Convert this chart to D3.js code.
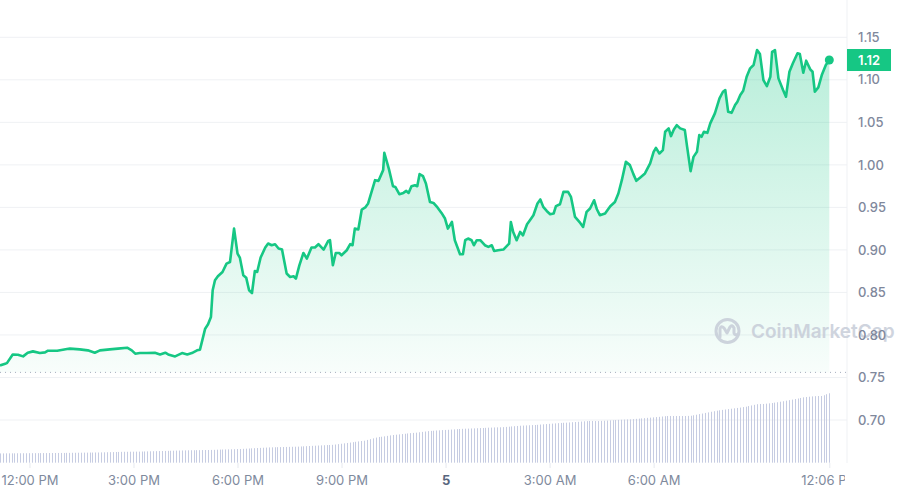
<!DOCTYPE html>
<html>
<head>
<meta charset="utf-8">
<script src="https://cdn.jsdelivr.net/npm/d3@7"></script>
<style>
  html, body { margin: 0; padding: 0; background: #ffffff; }
  svg { display: block; font-family: Inter, "Noto Sans", sans-serif; }
</style>
</head>
<body>
<svg id="chart" width="898" height="495"></svg>
<script>
// ---------- DATA ----------
// minutes after 11:09 AM (Nov 4)
const priceTimes = [0,9,12,22,31,40,48,57,69,78,83,99,116,121,138,152,164,173,190,204,220,228,234,242,254,268,277,286,291,303,315,324,332,341,346,350,355,360,365,368,372,377,385,392,398,405,411,415,421,426,431,436,441,445,451,459,464,470,476,482,488,496,502,508,512,518,525,531,539,545,551,560,568,571,576,581,587,591,600,606,610,614,620,626,632,637,649,655,663,665,673,680,684,691,698,703,707,712,718,722,726,732,737,744,750,757,764,770,775,782,787,796,801,805,810,816,820,825,831,839,845,851,855,862,871,881,884,888,894,900,905,912,917,923,930,935,940,946,952,958,962,969,975,983,988,995,1004,1009,1015,1021,1028,1033,1038,1047,1056,1064,1070,1076,1083,1090,1096,1101,1108,1116,1125,1131,1135,1141,1147,1151,1157,1161,1166,1171,1177,1185,1189,1195,1200,1206,1210,1214,1218,1224,1229,1237,1245,1251,1255,1260,1266,1272,1276,1281,1286,1292,1298,1304,1310,1315,1321,1327,1333,1336,1341,1347,1355,1360,1366,1372,1380,1384,1390,1395,1402,1406,1410,1416,1422,1429,1435];
const priceValues = [0.7642,0.7662,0.7669,0.7771,0.7768,0.7748,0.7791,0.7807,0.7787,0.7795,0.7815,0.7815,0.7834,0.7839,0.7830,0.7819,0.7791,0.7819,0.7830,0.7839,0.7850,0.7819,0.7780,0.7787,0.7787,0.7791,0.7771,0.7791,0.7771,0.7748,0.7787,0.7771,0.7787,0.7819,0.7827,0.7936,0.8074,0.8125,0.8211,0.8525,0.8643,0.8690,0.8740,0.8839,0.8858,0.9251,0.8957,0.8910,0.8702,0.8674,0.8525,0.8493,0.8752,0.8740,0.8910,0.9028,0.9075,0.9055,0.9067,0.9016,0.9004,0.8722,0.8682,0.8690,0.8663,0.8819,0.8964,0.8898,0.9028,0.9028,0.9067,0.9004,0.9105,0.9114,0.8819,0.8964,0.8964,0.8937,0.8996,0.9067,0.9055,0.9251,0.9240,0.9475,0.9499,0.9546,0.9820,0.9812,0.9938,1.0141,0.9950,0.9749,0.9741,0.9655,0.9670,0.9694,0.9670,0.9749,0.9761,0.9749,0.9891,0.9867,0.9781,0.9564,0.9553,0.9499,0.9435,0.9369,0.9251,0.9329,0.9114,0.8949,0.8949,0.9114,0.9134,0.9114,0.9055,0.9114,0.9114,0.9055,0.9035,0.9055,0.8988,0.8996,0.9004,0.9075,0.9329,0.9211,0.9114,0.9211,0.9172,0.9302,0.9349,0.9408,0.9546,0.9593,0.9506,0.9458,0.9420,0.9428,0.9514,0.9537,0.9682,0.9682,0.9623,0.9388,0.9317,0.9270,0.9447,0.9487,0.9584,0.9475,0.9408,0.9428,0.9514,0.9564,0.9663,0.9820,1.0035,0.9997,0.9891,0.9812,0.9852,0.9899,1.0017,1.0153,1.0200,1.0134,1.0173,1.0389,1.0429,1.0338,1.0417,1.0467,1.0429,1.0409,1.0212,0.9926,1.0094,1.0153,1.0350,1.0330,1.0389,1.0377,1.0488,1.0605,1.0782,1.0860,1.0880,1.0624,1.0612,1.0703,1.0742,1.0821,1.0871,1.1036,1.1135,1.1174,1.1350,1.1303,1.0997,1.0927,1.1036,1.1330,1.1350,1.1017,1.0880,1.0801,1.1095,1.1194,1.1312,1.1303,1.1083,1.1225,1.1123,1.1095,1.0860,1.0911,1.1056,1.1174,1.1233];
// 24h volume (millions), one per 5-minute bar
const volumeValues = [
11.9,11.9,12.0,12.0,12.0,12.0,12.1,12.1,12.1,12.1,12.2,12.2,
12.2,12.2,12.3,12.3,12.3,12.4,12.4,12.4,12.5,12.5,12.5,12.6,
12.6,12.7,12.7,12.8,12.8,12.9,12.9,13.0,13.0,13.1,13.1,13.2,
13.3,13.4,13.5,13.6,13.7,13.8,13.9,14.0,14.0,14.1,14.1,14.2,
14.2,14.3,14.4,14.5,14.6,14.7,14.8,14.9,15.0,15.1,15.2,15.3,
15.4,15.5,15.6,15.7,15.8,15.9,16.0,16.0,16.1,16.1,16.2,16.3,
16.3,16.4,16.5,16.7,16.8,16.9,17.0,17.1,17.2,17.3,17.5,17.6,
17.8,18.0,18.2,18.4,18.6,18.8,19.0,19.2,19.4,19.6,19.7,19.8,
19.9,20.0,20.1,20.2,20.3,20.4,20.5,20.6,20.8,21.0,21.2,21.4,
21.6,21.8,22.0,22.2,22.4,22.6,22.7,22.9,23.3,23.8,24.3,24.8,
25.3,25.8,26.3,26.8,27.3,27.8,28.2,29.2,30.2,31.2,32.2,33.0,
33.3,33.8,34.4,35.0,35.5,35.9,36.3,36.7,37.1,37.5,37.9,38.2,
38.5,39.0,39.5,40.0,40.5,40.8,41.0,41.3,41.5,41.8,42.0,42.2,
42.5,42.7,43.0,43.2,43.4,43.6,43.7,43.9,44.0,44.2,44.4,44.5,
44.7,44.9,45.0,45.2,45.3,45.4,45.6,45.9,46.2,46.5,46.8,47.1,
47.4,47.6,47.8,48.0,48.2,48.3,48.6,48.9,49.2,49.5,49.8,50.1,
50.4,50.7,51.0,51.2,51.3,51.6,51.9,52.2,52.5,52.8,53.1,53.3,
53.5,53.5,53.4,53.4,53.6,53.8,54.0,54.3,54.5,54.7,54.9,55.1,
55.3,55.5,55.6,55.9,56.2,56.5,56.8,57.1,57.5,57.8,58.1,58.5,
58.8,59.2,59.6,59.9,59.9,59.9,59.9,59.9,59.9,59.9,60.0,60.2,
60.8,61.5,62.3,63.0,63.8,64.5,65.3,66.0,66.7,67.2,67.7,68.2,
68.7,69.2,69.7,70.2,70.7,71.3,71.8,72.6,73.4,74.2,75.0,75.3,
75.3,75.7,76.1,76.5,77.0,77.5,78.2,78.8,79.5,80.2,80.9,81.6,
82.3,83.0,83.8,84.2,84.6,85.0,85.3,85.5,85.5,86.5,87.8,89.0];
const volumeStepMinutes = 5;
const referencePrice = 0.756;
const currentPriceLabel = "1.12";
const yTickValues = [0.70,0.75,0.80,0.85,0.90,0.95,1.00,1.05,1.10,1.15];
// x ticks: minutes after 11:09 AM start
const xTickMinutes = [51,231,411,591,771,951,1131,1435];
const xTickLabels = ["12:00 PM","3:00 PM","6:00 PM","9:00 PM","5","3:00 AM","6:00 AM","12:06 PM"];

// ---------- SCALES ----------
const startTime = new Date(2024, 10, 4, 11, 9);
const toDate = m => new Date(startTime.getTime() + m * 60000);
const plotRight = 847;
const x = d3.scaleTime().domain([toDate(0), toDate(1435)]).range([0, 829.3]);
const y = d3.scaleLinear().domain([0.70, 1.15]).range([420, 37.3]);
const yVol = d3.scaleLinear().domain([0, 100]).range([462.7, 384.7]);

const green = "#16c784";
const svg = d3.select("#chart");
const defs = svg.append("defs");

const grad = defs.append("linearGradient").attr("id","areaGrad")
  .attr("gradientUnits","userSpaceOnUse")
  .attr("x1",0).attr("x2",0).attr("y1", y(1.135)).attr("y2", y(referencePrice));
grad.append("stop").attr("offset","0").attr("stop-color",green).attr("stop-opacity",0.3);
grad.append("stop").attr("offset","1").attr("stop-color",green).attr("stop-opacity",0.03);

defs.append("clipPath").attr("id","xclip").append("rect")
  .attr("x",0).attr("y",455).attr("width",845).attr("height",40);

// ---------- GRID ----------
svg.append("g").selectAll("line").data(yTickValues).join("line")
  .attr("x1",0).attr("x2",plotRight)
  .attr("y1",d=>y(d)).attr("y2",d=>y(d))
  .attr("stroke","#eff1f4").attr("stroke-width",1);
svg.append("line").attr("x1",plotRight).attr("x2",plotRight).attr("y1",0).attr("y2",463)
  .attr("stroke","#eff1f4");

// ---------- VOLUME ----------
svg.append("g").selectAll("line").data(volumeValues).join("line")
  .attr("x1",(d,i)=>Math.round(x(toDate(i*volumeStepMinutes)))+0.5)
  .attr("x2",(d,i)=>Math.round(x(toDate(i*volumeStepMinutes)))+0.5)
  .attr("y1",yVol(0)).attr("y2",d=>yVol(d))
  .attr("stroke","#c6cce2").attr("stroke-width",1);

// ---------- PRICE AREA + LINE ----------
const pts = priceTimes.map((t,i)=>({t:toDate(t), v:priceValues[i]}));
svg.append("path").datum(pts)
  .attr("d", d3.area().x(d=>x(d.t)).y0(y(referencePrice)).y1(d=>y(d.v)))
  .attr("fill","url(#areaGrad)");

// reference dotted line
svg.append("line").attr("x1",0).attr("x2",plotRight)
  .attr("y1",y(referencePrice)).attr("y2",y(referencePrice))
  .attr("stroke","#a6adbd").attr("stroke-width",1).attr("stroke-dasharray","1,4");

// watermark
const wm = svg.append("g").attr("opacity",0.8);
wm.append("circle").attr("cx",727.5).attr("cy",331).attr("r",11.5)
  .attr("fill","none").attr("stroke","#c4cad6").attr("stroke-width",3);
wm.append("path").attr("d","M720,337 L720,329 Q721,325 724,328 L727,333 L730,327 Q732,324 734,328 L734,333 Q735,336 738,334")
  .attr("fill","none").attr("stroke","#c4cad6").attr("stroke-width",3).attr("stroke-linecap","round").attr("stroke-linejoin","round");
wm.append("text").attr("x",751).attr("y",338).text("CoinMarketCap")
  .attr("font-size",19).attr("font-weight",600).attr("fill","#c4cad6");

svg.append("path").datum(pts)
  .attr("d", d3.line().x(d=>x(d.t)).y(d=>y(d.v)))
  .attr("fill","none").attr("stroke",green).attr("stroke-width",2.6)
  .attr("stroke-linejoin","round");

const last = pts[pts.length-1];
svg.append("circle").attr("cx",x(last.t)).attr("cy",y(last.v)).attr("r",4.5).attr("fill",green);

// ---------- AXES ----------
const yAxis = svg.append("g").attr("transform","translate(855,0)")
  .call(d3.axisRight(y).tickValues(yTickValues).tickSize(0).tickPadding(3).tickFormat(d3.format(".2f")));
yAxis.select(".domain").remove();
yAxis.selectAll("text").attr("fill","#7f889c").attr("font-size",13).attr("font-weight",500).attr("font-family","Inter, sans-serif");

const xAxis = svg.append("g").attr("clip-path","url(#xclip)")
  .append("g").attr("transform","translate(0,463)")
  .call(d3.axisBottom(x).tickValues(xTickMinutes.map(toDate)).tickSize(5).tickPadding(8)
    .tickFormat((d,i)=>xTickLabels[i]));
xAxis.select(".domain").remove();
xAxis.selectAll(".tick line").attr("stroke","#e6e9ef");
xAxis.selectAll("text").attr("font-size",13).attr("font-family","Inter, sans-serif")
  .attr("font-weight",(d,i)=>xTickLabels[i]==="5"?700:400)
  .attr("fill",(d,i)=>xTickLabels[i]==="5"?"#58667e":"#808a9d");

// current price badge
const by = y(last.v);
svg.append("rect").attr("x",847).attr("y",by-11).attr("width",44).attr("height",22).attr("fill",green);
svg.append("text").attr("x",869).attr("y",by).attr("dy","0.35em").attr("text-anchor","middle")
  .attr("fill","#ffffff").attr("font-size",13).attr("font-weight",600).text(currentPriceLabel);
</script>
</body>
</html>
